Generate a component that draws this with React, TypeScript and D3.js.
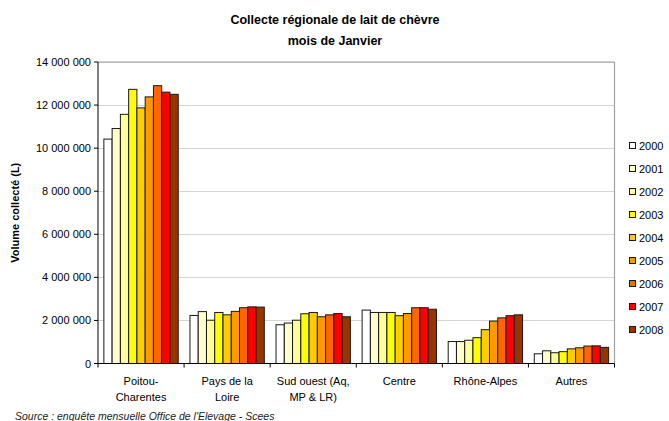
import React from "react";
import * as d3 from "d3";

const categories = [
  ["Poitou-", "Charentes"],
  ["Pays de la", "Loire"],
  ["Sud ouest (Aq,", "MP & LR)"],
  ["Centre"],
  ["Rhône-Alpes"],
  ["Autres"],
];
const years = ["2000", "2001", "2002", "2003", "2004", "2005", "2006", "2007", "2008"];
const colors = ["#FFFFFF", "#FFFFCC", "#FFFF99", "#FFFF00", "#FFCC00", "#FF9900", "#FF6600", "#FF0000", "#993300"];

const poitou = [10420000, 10910000, 11570000, 12730000, 11870000, 12380000, 12900000, 12600000, 12500000];
const paysLoire = [2230000, 2410000, 2010000, 2370000, 2260000, 2420000, 2590000, 2630000, 2620000];
const sudOuest = [1800000, 1880000, 2010000, 2310000, 2370000, 2170000, 2260000, 2320000, 2170000];
const centre = [2480000, 2370000, 2370000, 2370000, 2220000, 2320000, 2590000, 2590000, 2520000];
const rhoneAlpes = [1020000, 1020000, 1080000, 1200000, 1570000, 1970000, 2120000, 2220000, 2260000];
const autres = [450000, 590000, 500000, 550000, 680000, 730000, 810000, 820000, 750000];
const seriesByCategory = [poitou, paysLoire, sudOuest, centre, rhoneAlpes, autres];

const yTicks = [0, 2000000, 4000000, 6000000, 8000000, 10000000, 12000000, 14000000];

const W = 669;
const H = 421;
const plot = { left: 98, right: 614.5, top: 62, bottom: 363.5 };
const font = "'Liberation Sans', Arial, sans-serif";

function fmt(v: number) {
  return String(v).replace(/\B(?=(\d{3})+(?!\d))/g, " ");
}

export default function App() {
  const catKeys = categories.map((c, i) => String(i));
  const x0 = d3.scaleBand<string>().domain(catKeys).range([plot.left, plot.right]).paddingInner(0).paddingOuter(0);
  const x1 = d3.scaleBand<string>().domain(years).range([0, x0.bandwidth()]).paddingInner(0).paddingOuter(0.71);
  const y = d3.scaleLinear().domain([0, 14000000]).range([plot.bottom, plot.top]);

  return (
    <svg width={W} height={H} style={{ position: "absolute", left: 0, top: 0, background: "#fff" }} fontFamily={font}>
      <rect x={0} y={0} width={W} height={H} fill="#fff" />
      {/* title */}
      <text x={335} y={24} textAnchor="middle" fontSize={12.5} fontWeight="bold" fill="#000">
        Collecte régionale de lait de chèvre
      </text>
      <text x={335} y={45} textAnchor="middle" fontSize={12.5} fontWeight="bold" fill="#000">
        mois de Janvier
      </text>
      {/* gridlines */}
      {yTicks.map((t) =>
        t > 0 ? (
          <line key={"g" + t} x1={plot.left} x2={plot.right} y1={Math.round(y(t)) + 0.5} y2={Math.round(y(t)) + 0.5} stroke="#d4d4d4" strokeWidth={1} />
        ) : null
      )}
      {/* plot border top/right */}
      <line x1={plot.left} x2={plot.right} y1={plot.top} y2={plot.top} stroke="#a0a0a0" strokeWidth={1.2} />
      <line x1={plot.right} x2={plot.right} y1={plot.top} y2={plot.bottom} stroke="#a0a0a0" strokeWidth={1.2} />
      {/* bars */}
      {seriesByCategory.map((vals, ci) => (
        <g key={"c" + ci} transform={`translate(${x0(String(ci))},0)`}>
          {vals.map((v, yi) => (
            <rect
              key={yi}
              x={x1(years[yi])}
              y={y(v)}
              width={x1.bandwidth()}
              height={plot.bottom - y(v)}
              fill={colors[yi]}
              stroke="#1a1a1a"
              strokeWidth={1}
            />
          ))}
        </g>
      ))}
      {/* y axis */}
      <line x1={plot.left} x2={plot.left} y1={plot.top} y2={plot.bottom} stroke="#000" strokeWidth={1} />
      {yTicks.map((t) => (
        <g key={"t" + t}>
          <line x1={plot.left - 4} x2={plot.left} y1={y(t)} y2={y(t)} stroke="#000" />
          <text x={plot.left - 7} y={y(t) + 4} textAnchor="end" fontSize={11} fill="#000">
            {fmt(t)}
          </text>
        </g>
      ))}
      <text transform={`translate(19,${(plot.top + plot.bottom) / 2}) rotate(-90)`} textAnchor="middle" fontSize={11} fontWeight="bold" fill="#000">
        Volume collecté (L)
      </text>
      {/* x axis */}
      <line x1={plot.left} x2={plot.right} y1={plot.bottom} y2={plot.bottom} stroke="#000" strokeWidth={1} />
      {catKeys.concat(["end"]).map((k, i) => {
        const xx = i < catKeys.length ? x0(k)! : plot.right;
        return <line key={"xt" + i} x1={xx} x2={xx} y1={plot.bottom} y2={plot.bottom + 4} stroke="#000" />;
      })}
      {categories.map((lines, ci) => (
        <text key={"xl" + ci} x={x0(String(ci))! + x0.bandwidth() / 2} y={385} textAnchor="middle" fontSize={11} fill="#000">
          {lines.map((l, li) => (
            <tspan key={li} x={x0(String(ci))! + x0.bandwidth() / 2} dy={li === 0 ? 0 : 16}>
              {l}
            </tspan>
          ))}
        </text>
      ))}
      {/* legend */}
      {years.map((yr, i) => (
        <g key={"lg" + yr} transform={`translate(629,${146 + i * 23})`}>
          <rect x={0.5} y={-3.5} width={6} height={6} fill={colors[i]} stroke="#1a1a1a" strokeWidth={1} />
          <text x={10} y={4} fontSize={11} fill="#000">
            {yr}
          </text>
        </g>
      ))}
      {/* source */}
      <text x={15} y={420} fontSize={10.5} fontStyle="italic" fill="#222">
        Source : enquête mensuelle Office de l'Elevage - Scees
      </text>
    </svg>
  );
}
